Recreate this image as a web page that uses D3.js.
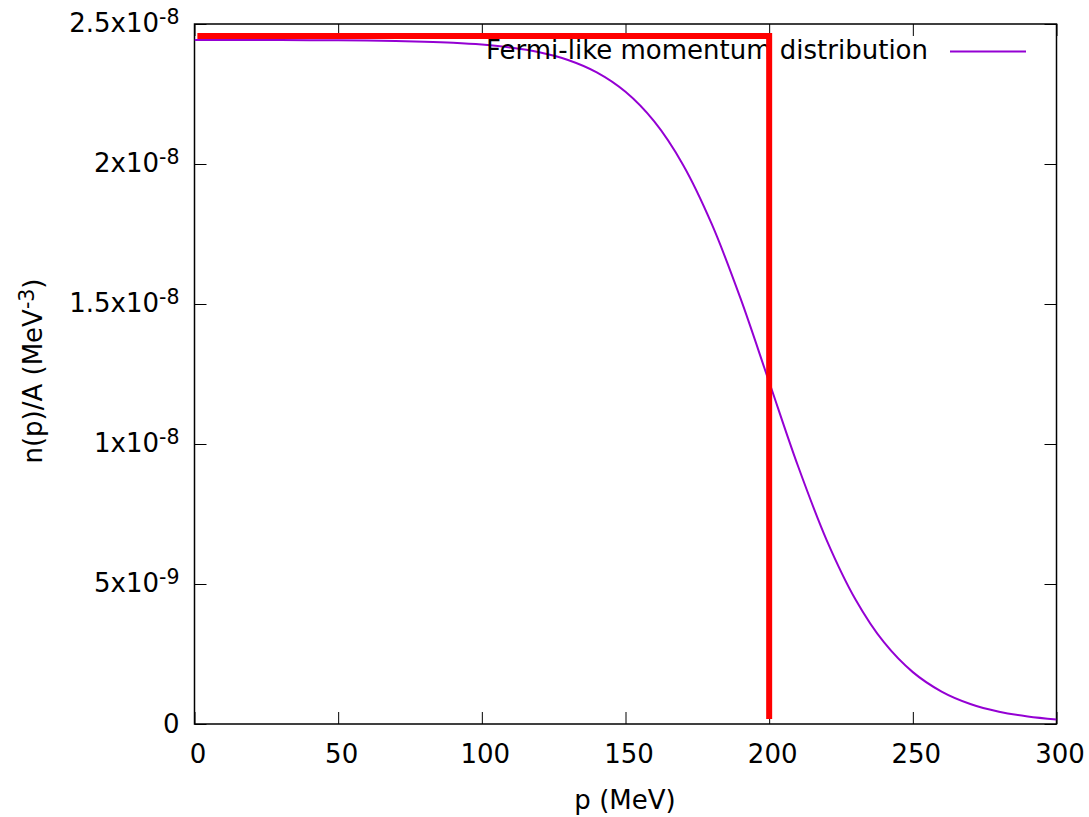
<!DOCTYPE html>
<html>
<head>
<meta charset="utf-8">
<script src="https://cdn.jsdelivr.net/npm/d3@7"></script>
<style>
  body { margin: 0; background: #fff; }
  text { font-family: "DejaVu Sans", sans-serif; fill: #000; }
</style>
</head>
<body>
<svg id="chart" width="1089" height="817"></svg>
<script>
// momentum p (MeV) and n(p)/A (MeV^-3)
const momentum = [0, 10, 20, 30, 40, 50, 60, 70, 80, 90, 100, 110, 120, 130, 140, 150,
  160, 170, 180, 190, 200, 210, 220, 230, 240, 250, 260, 270, 280, 290, 300];
const density = [2.443e-8, 2.443e-8, 2.4427e-8, 2.4425e-8, 2.4422e-8, 2.4416e-8, 2.4408e-8,
  2.4393e-8, 2.437e-8, 2.4331e-8, 2.4266e-8, 2.4162e-8, 2.399e-8, 2.3714e-8, 2.3271e-8,
  2.2577e-8, 2.1518e-8, 1.9974e-8, 1.786e-8, 1.5207e-8, 1.2215e-8, 0.9223e-8, 0.657e-8,
  0.4457e-8, 0.2912e-8, 0.1853e-8, 0.1159e-8, 0.0716e-8, 0.04394e-8, 0.02684e-8, 0.01635e-8];

// red marker: Fermi momentum cut
const markerP = [1, 200, 200];
const markerN = [2.457e-8, 2.457e-8, 0.018e-8];

const xTicks = [0, 50, 100, 150, 200, 250, 300];
const yTicks = [0, 5e-9, 1e-8, 1.5e-8, 2e-8, 2.5e-8];
const yTickMant = ['0', '5', '1', '1.5', '2', '2.5'];
const yTickExp = [null, '-9', '-8', '-8', '-8', '-8'];

const seriesName = 'Fermi-like momentum distribution';

const plotLeft = 194.5, plotRight = 1056.5, plotTop = 24, plotBottom = 724;
const fontSize = '26px', supSize = '20.5px';

const svg = d3.select('#chart');

const x = d3.scaleLinear().domain([0, 300]).range([plotLeft, plotRight]);
const y = d3.scaleLinear().domain([0, 2.5e-8]).range([plotBottom, plotTop]);

// ticks on all four sides, pointing inward
const gBottom = svg.append('g')
  .attr('transform', `translate(0,${plotBottom})`)
  .call(d3.axisBottom(x).tickValues(xTicks).tickSize(-12).tickFormat(d => d));
gBottom.selectAll('text')
  .attr('y', 39).attr('dy', null).attr('dx', 3)
  .style('font-size', fontSize);

svg.append('g')
  .attr('transform', `translate(0,${plotTop})`)
  .call(d3.axisTop(x).tickValues(xTicks).tickSize(-12).tickFormat(''));

const gLeft = svg.append('g')
  .attr('transform', `translate(${plotLeft},0)`)
  .call(d3.axisLeft(y).tickValues(yTicks).tickSize(-12).tickFormat(''));

svg.append('g')
  .attr('transform', `translate(${plotRight},0)`)
  .call(d3.axisRight(y).tickValues(yTicks).tickSize(-12).tickFormat(''));

svg.selectAll('.domain').remove();
svg.selectAll('.tick line').attr('stroke', '#000').attr('stroke-width', 1);
svg.selectAll('g').attr('font-family', null).attr('font-size', null);

// y tick labels with superscript exponents
gLeft.selectAll('.tick').each(function (d, i) {
  const t = d3.select(this).append('text')
    .attr('x', -15)
    .attr('y', yTickExp[i] ? 7 : 8)
    .attr('text-anchor', 'end')
    .style('font-size', fontSize);
  if (yTickExp[i]) {
    t.text(yTickMant[i] + 'x10');
    t.append('tspan').attr('dy', -8).style('font-size', supSize).text(yTickExp[i]);
  } else {
    t.text(yTickMant[i]);
  }
});

// frame
svg.append('rect')
  .attr('x', plotLeft).attr('y', plotTop)
  .attr('width', plotRight - plotLeft).attr('height', plotBottom - plotTop)
  .attr('fill', 'none').attr('stroke', '#000').attr('stroke-width', 1.5);

// axis titles
svg.append('text')
  .attr('x', 625).attr('y', 809)
  .attr('text-anchor', 'middle')
  .style('font-size', fontSize)
  .text('p (MeV)');

const yTitle = svg.append('text')
  .attr('transform', 'translate(42,371) rotate(-90)')
  .attr('text-anchor', 'middle')
  .style('font-size', fontSize)
  .text('n(p)/A (MeV');
yTitle.append('tspan').attr('dy', -8).style('font-size', supSize).text('-3');
yTitle.append('tspan').attr('dy', 8).text(')');

svg.append('clipPath').attr('id', 'plot-clip')
  .append('rect')
  .attr('x', plotLeft).attr('y', plotTop)
  .attr('width', plotRight - plotLeft).attr('height', plotBottom - plotTop);

const line = d3.line()
  .x(d => x(d[0]))
  .y(d => y(d[1]))
  .curve(d3.curveCatmullRom);

svg.append('path')
  .datum(d3.zip(momentum, density))
  .attr('clip-path', 'url(#plot-clip)')
  .attr('fill', 'none')
  .attr('stroke', '#9400d3')
  .attr('stroke-width', 2)
  .attr('d', line);

// key
svg.append('text')
  .attr('x', 928).attr('y', 59)
  .attr('text-anchor', 'end')
  .style('font-size', fontSize)
  .text(seriesName);
svg.append('line')
  .attr('x1', 950).attr('x2', 1026)
  .attr('y1', 51.5).attr('y2', 51.5)
  .attr('stroke', '#9400d3')
  .attr('stroke-width', 2);

// red marker on top
svg.append('path')
  .datum(d3.zip(markerP, markerN))
  .attr('fill', 'none')
  .attr('stroke', '#ff0000')
  .attr('stroke-width', 6)
  .attr('stroke-linejoin', 'miter')
  .attr('d', d3.line().x(d => x(d[0])).y(d => y(d[1])));
</script>
</body>
</html>
